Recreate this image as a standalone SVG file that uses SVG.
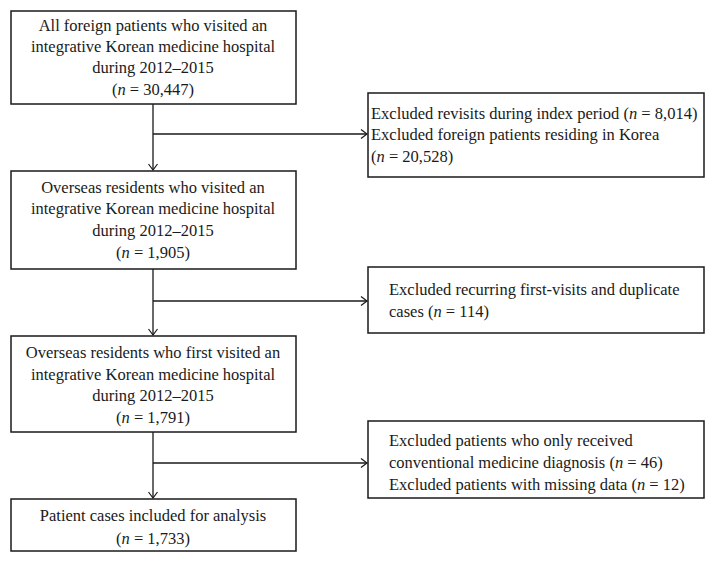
<svg xmlns="http://www.w3.org/2000/svg" width="716" height="564" viewBox="0 0 716 564">
<defs>
<marker id="arr" markerWidth="12" markerHeight="12" refX="10" refY="6" orient="auto" markerUnits="userSpaceOnUse">
<path d="M4,1.5 L10,6 L4,10.5" fill="none" stroke="#1a1a1a" stroke-width="1.2"/>
</marker>
<style>
rect{fill:#fff;stroke:#1a1a1a;stroke-width:1.5}
text{font-family:"Liberation Serif","Times New Roman",serif;font-size:16.5px;fill:#1a1a1a}
.c{text-anchor:middle}
.ln{fill:none;stroke:#1a1a1a;stroke-width:1.3}
</style>
</defs>
<rect width="716" height="564" style="fill:#fff;stroke:none"/>
<g id="connectors">
<path class="ln" d="M153,104 V170" marker-end="url(#arr)"/>
<path class="ln" d="M153,134 H367" marker-end="url(#arr)"/>
<path class="ln" d="M153,269 V335" marker-end="url(#arr)"/>
<path class="ln" d="M153,301 H367" marker-end="url(#arr)"/>
<path class="ln" d="M153,432 V498" marker-end="url(#arr)"/>
<path class="ln" d="M153,463 H367" marker-end="url(#arr)"/>
</g>
<g id="n1">
<rect x="11" y="11" width="285" height="93"/>
<text class="c" x="153" y="31">All foreign patients who visited an</text>
<text class="c" x="153" y="52">integrative Korean medicine hospital</text>
<text class="c" x="153" y="73">during 2012–2015</text>
<text class="c" x="153" y="95">(<tspan font-style="italic">n</tspan> = 30,447)</text>
</g>
<g id="e1">
<rect x="368" y="93" width="336" height="84"/>
<text x="371" y="119">Excluded revisits during index period (<tspan font-style="italic">n</tspan> = 8,014)</text>
<text x="371" y="140">Excluded foreign patients residing in Korea</text>
<text x="371" y="162">(<tspan font-style="italic">n</tspan> = 20,528)</text>
</g>
<g id="n2">
<rect x="11" y="171" width="285" height="98"/>
<text class="c" x="153" y="193">Overseas residents who visited an</text>
<text class="c" x="153" y="214">integrative Korean medicine hospital</text>
<text class="c" x="153" y="236">during 2012–2015</text>
<text class="c" x="153" y="258">(<tspan font-style="italic">n</tspan> = 1,905)</text>
</g>
<g id="e2">
<rect x="368" y="267" width="336" height="66"/>
<text x="389" y="295">Excluded recurring first-visits and duplicate</text>
<text x="389" y="317">cases (<tspan font-style="italic">n</tspan> = 114)</text>
</g>
<g id="n3">
<rect x="11" y="336" width="285" height="96"/>
<text class="c" x="153" y="358">Overseas residents who first visited an</text>
<text class="c" x="153" y="380">integrative Korean medicine hospital</text>
<text class="c" x="153" y="401">during 2012–2015</text>
<text class="c" x="153" y="423">(<tspan font-style="italic">n</tspan> = 1,791)</text>
</g>
<g id="e3">
<rect x="368" y="421" width="336" height="77"/>
<text x="389" y="446">Excluded patients who only received</text>
<text x="389" y="468">conventional medicine diagnosis (<tspan font-style="italic">n</tspan> = 46)</text>
<text x="389" y="490">Excluded patients with missing data (<tspan font-style="italic">n</tspan> = 12)</text>
</g>
<g id="n4">
<rect x="11" y="499" width="285" height="52"/>
<text class="c" x="153" y="521">Patient cases included for analysis</text>
<text class="c" x="153" y="544">(<tspan font-style="italic">n</tspan> = 1,733)</text>
</g>
</svg>
